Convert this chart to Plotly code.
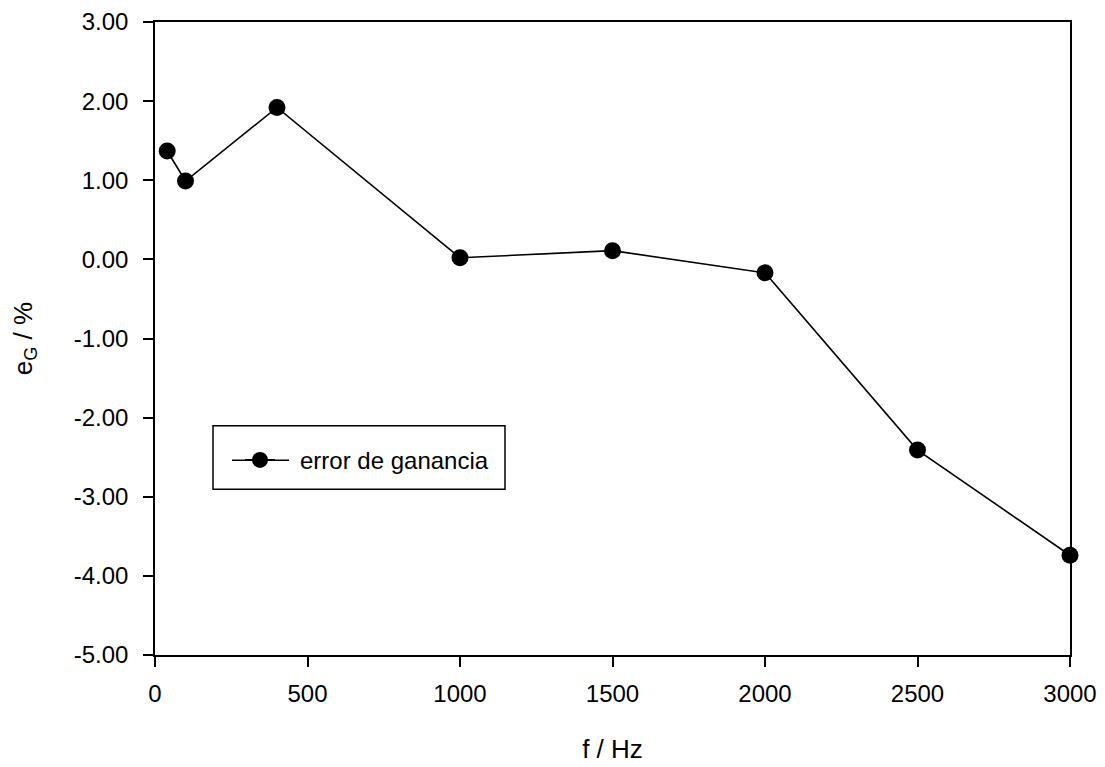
import plotly.graph_objects as go

freq_hz = [40, 100, 400, 1000, 1500, 2000, 2500, 3000]
error_pct = [1.37, 0.99, 1.92, 0.02, 0.11, -0.17, -2.41, -3.74]
series_name = "error de ganancia"
y_ticks = [3, 2, 1, 0, -1, -2, -3, -4, -5]
y_tick_labels = ["3.00", "2.00", "1.00", "0.00", "-1.00", "-2.00", "-3.00", "-4.00", "-5.00"]
x_ticks = [0, 500, 1000, 1500, 2000, 2500, 3000]

font = "Liberation Sans, Arial, sans-serif"
FS = 24
TFS = 26

fig = go.Figure()
fig.add_trace(go.Scatter(
    x=freq_hz, y=error_pct, mode="lines+markers",
    name="\u00a0\u00a0\u00a0" + series_name,
    line=dict(color="black", width=1.6),
    marker=dict(color="black", size=17, symbol="circle"),
    cliponaxis=False,
))

axis_common = dict(
    showline=True, linecolor="black", linewidth=1.5, mirror=True,
    ticks="outside", ticklen=10, tickwidth=1.5, tickcolor="black",
    showgrid=False, zeroline=False, automargin=False,
    tickfont=dict(family=font, size=FS, color="black"),
)

# legend frame and extended legend key line (paper coordinates)
fig.add_shape(type="rect", xref="paper", yref="paper",
              x0=0.0634, x1=0.3825, y0=0.262, y1=0.362,
              line=dict(color="black", width=1.5), fillcolor="rgba(0,0,0,0)")
fig.add_shape(type="line", xref="paper", yref="paper",
              x0=0.0842, x1=0.1465, y0=0.3076, y1=0.3076,
              line=dict(color="black", width=1.6))

fig.update_layout(
    width=1105, height=767,
    margin=dict(l=147, r=43, t=14, b=120),
    paper_bgcolor="white", plot_bgcolor="white",
    showlegend=True,
    legend=dict(
        x=0.0929, y=0.3076, xanchor="left", yanchor="middle",
        borderwidth=0, bgcolor="rgba(0,0,0,0)",
        font=dict(family=font, size=FS, color="black"),
    ),
    xaxis=dict(
        range=[0, 3000], tickvals=x_ticks, ticklabelstandoff=6,
        title=dict(text="f / Hz", font=dict(family=font, size=TFS, color="black"), standoff=34),
        **axis_common,
    ),
    yaxis=dict(
        range=[-5, 3], tickvals=y_ticks, ticktext=y_tick_labels, ticklabelstandoff=10,
        title=dict(text="e<sub>G</sub> / %", font=dict(family=font, size=TFS, color="black"), standoff=40),
        **axis_common,
    ),
)

fig.write_html("out.html")
